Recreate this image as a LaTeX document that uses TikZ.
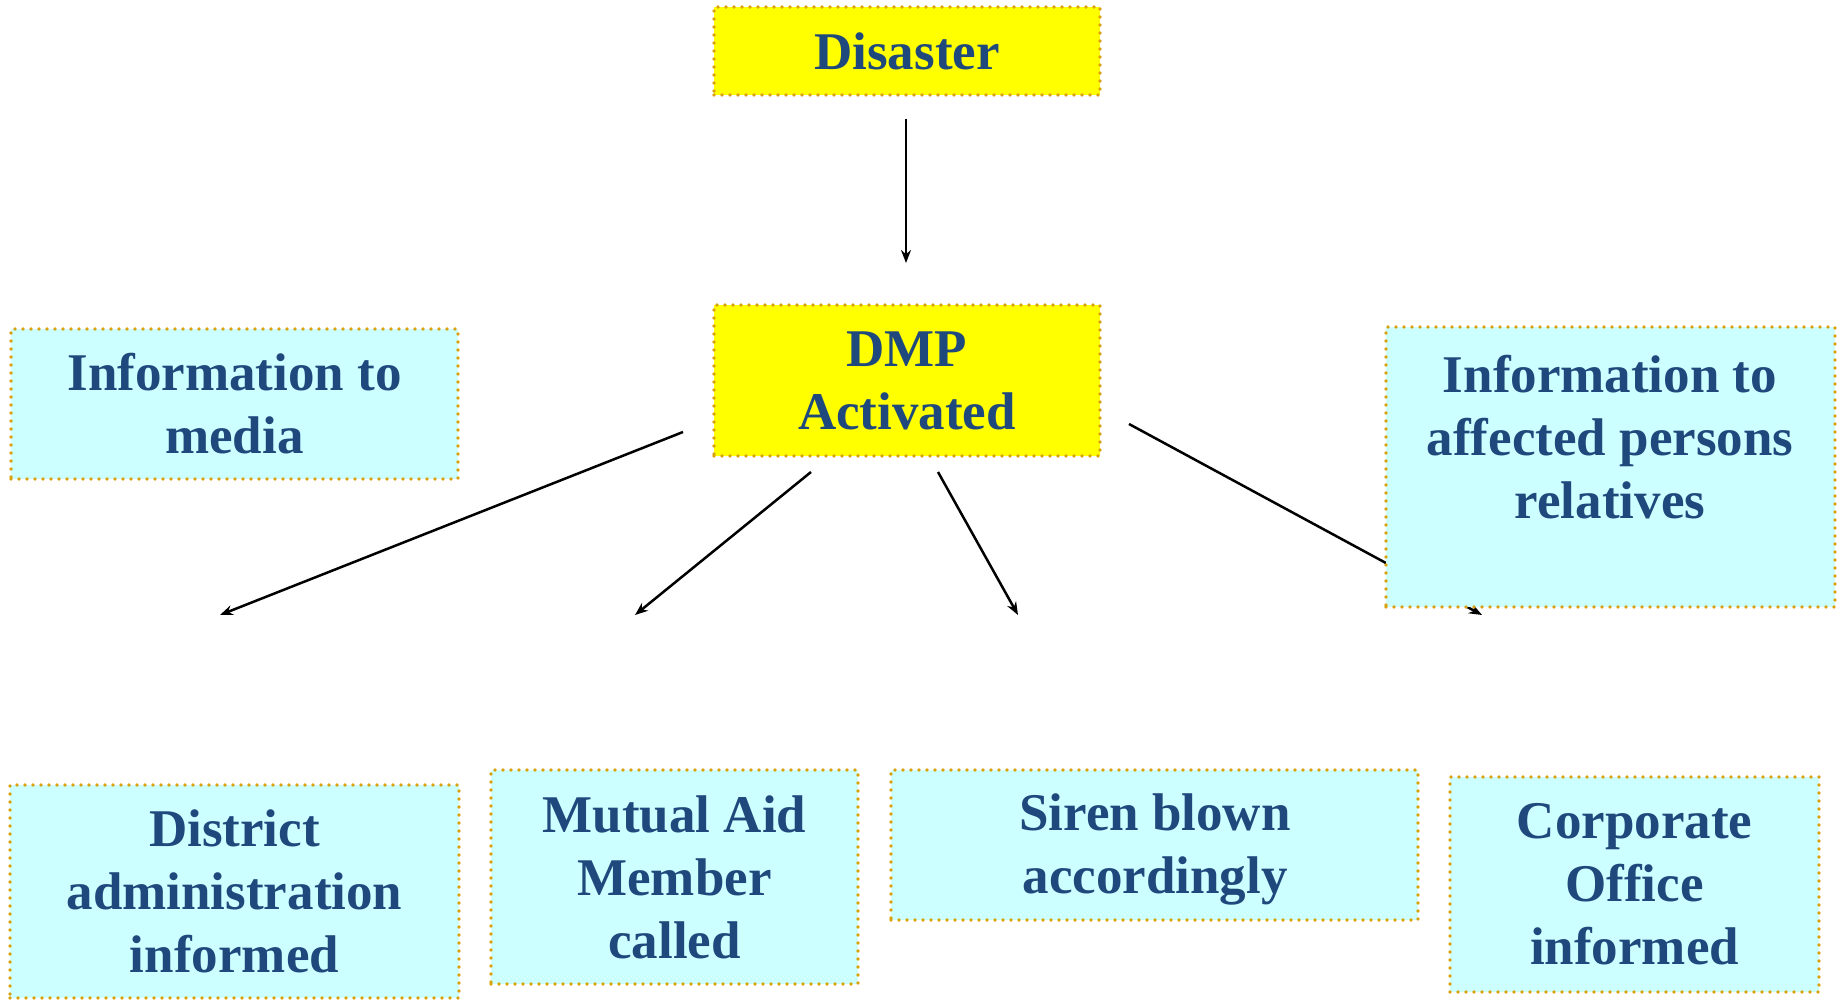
\documentclass[tikz,border=0pt]{standalone}
\usepackage{fontspec}
\setmainfont{Liberation Serif}
\usetikzlibrary{arrows.meta}
\definecolor{txtblue}{HTML}{1F497D}
\definecolor{dotgold}{HTML}{D9A10E}
\definecolor{cyanfill}{HTML}{CCFFFF}
\definecolor{yelfill}{HTML}{FFFF00}
\tikzset{
  boxbase/.style={draw=dotgold, line width=3.8pt, dash pattern=on 0pt off 8pt, line cap=round,
    inner sep=0pt, outer sep=0pt, text=txtblue, align=center,
    font=\fontsize{53}{63}\selectfont\bfseries},
  ybox/.style={boxbase, fill=yelfill},
  cbox/.style={boxbase, fill=cyanfill},
  txtonly/.style={text=txtblue, align=center, inner sep=0pt, font=\fontsize{53}{63}\selectfont\bfseries},
  arr/.style={-{Stealth[length=13pt,width=10pt]}, line width=2.5pt, black}
}
\begin{document}
\begin{tikzpicture}[x=1pt,y=-1pt]
\useasboundingbox (0,0) rectangle (1841,1000);
% connector end points
\coordinate (d0) at (906,119);
\coordinate (d1) at (906,263);
\coordinate (a1s) at (683,432);
\coordinate (a1e) at (220,615);
\coordinate (a2s) at (811,472);
\coordinate (a2e) at (635,615);
\coordinate (a3s) at (938,472);
\coordinate (a3e) at (1018,615);
\coordinate (a4s) at (1129,424);
\coordinate (a4e) at (1482,615);
% arrows
\draw[arr] (d0) -- (d1);
\draw[arr] (a1s) -- (a1e);
\draw[arr] (a2s) -- (a2e);
\draw[arr] (a3s) -- (a3e);
\draw[arr] (a4s) -- (a4e);
% boxes
\node[ybox, minimum width=386pt, minimum height=88pt] (dis) at (907,51) {Disaster};
\node[ybox, minimum width=386pt, minimum height=151pt] (dmp) at (907,380.5) {DMP\\Activated};
\node[cbox, minimum width=447pt, minimum height=150pt] (media) at (234.5,404) {Information to\\media};
\node[cbox, minimum width=449pt, minimum height=280pt] (aff) at (1610.5,467) {};
\node[txtonly] (afftxt) at (1610,437) {Information to\\affected persons\\relatives};
\node[cbox, minimum width=449pt, minimum height=213pt] (dist) at (234.5,891.5) {District\\administration\\informed};
\node[cbox, minimum width=367pt, minimum height=214pt] (mut) at (674.5,877) {Mutual Aid\\Member\\called};
\node[cbox, minimum width=527pt, minimum height=150pt] (sir) at (1154.5,845) {};
\node[txtonly] (sirtxt) at (1155,849) {Siren blown\\accordingly};
\node[cbox, minimum width=369pt, minimum height=215pt] (corp) at (1634.5,884.5) {Corporate\\Office\\informed};
\end{tikzpicture}
\end{document}
